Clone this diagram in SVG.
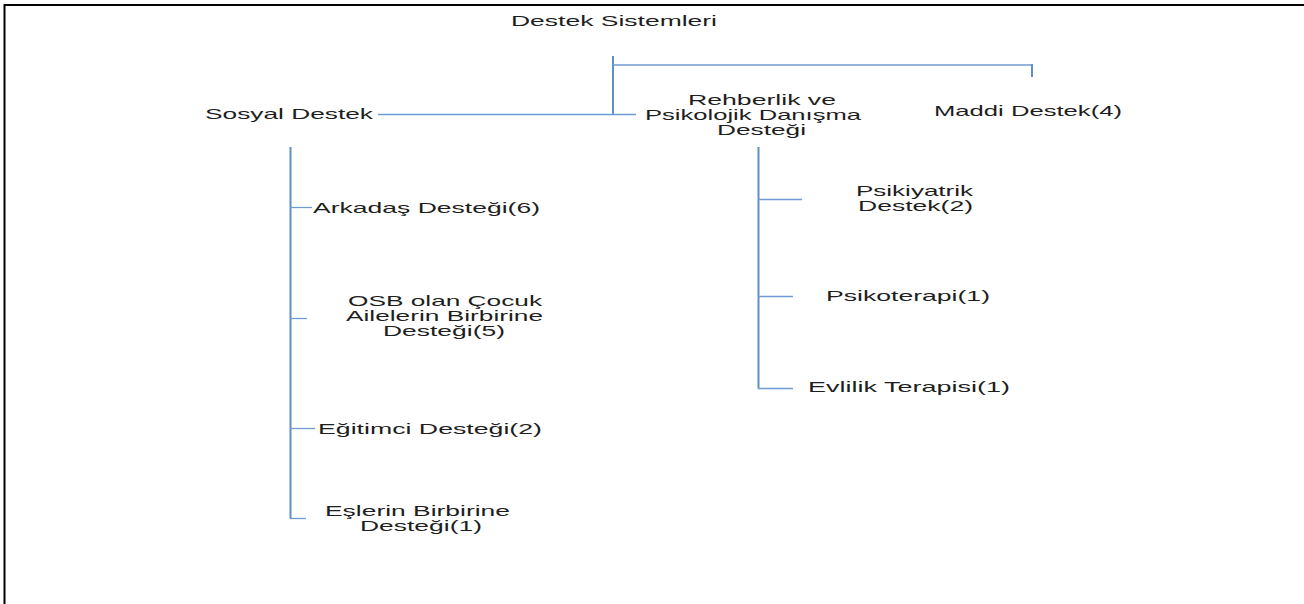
<svg xmlns="http://www.w3.org/2000/svg" width="1304" height="604" viewBox="0 0 1304 604">
  <style>
    .frame { stroke: #000; stroke-width: 2; fill: none; }
    .v { stroke: #5f8fca; stroke-width: 2; fill: none; }
    .h { stroke: #6f9bd2; stroke-width: 1.3; fill: none; }
    text { font-family: "Liberation Sans", Arial, sans-serif; font-size: 15px; fill: #1e1e1e; }
  </style>
  <rect width="1304" height="604" fill="#fff"/>
  <!-- page frame: top and left edges only -->
  <path class="frame" d="M4.5 604 V5 H1304"/>

  <g id="connectors">
    <!-- root trunk and top bar -->
    <line class="v" x1="613" y1="56" x2="613" y2="115"/>
    <line class="h" x1="613" y1="65" x2="1032" y2="65"/>
    <line class="v" x1="1032" y1="64" x2="1032" y2="77"/>
    <line class="h" x1="378" y1="114.5" x2="636" y2="114.5"/>
    <!-- Sosyal Destek branch -->
    <line class="v" x1="290.5" y1="147" x2="290.5" y2="518.5"/>
    <line class="h" x1="290" y1="207.5" x2="312" y2="207.5"/>
    <line class="h" x1="290" y1="318.5" x2="307" y2="318.5"/>
    <line class="h" x1="290" y1="428.5" x2="315" y2="428.5"/>
    <line class="h" x1="290" y1="518.5" x2="306" y2="518.5"/>
    <!-- Rehberlik branch -->
    <line class="v" x1="758.5" y1="147" x2="758.5" y2="388.5"/>
    <line class="h" x1="758" y1="199.5" x2="802" y2="199.5"/>
    <line class="h" x1="758" y1="296.5" x2="793" y2="296.5"/>
    <line class="h" x1="758" y1="388.5" x2="793" y2="388.5"/>
  </g>

  <g id="root">
    <text x="511" y="26" textLength="206" lengthAdjust="spacingAndGlyphs">Destek Sistemleri</text>
  </g>
  <g id="sosyal">
    <text x="205" y="119" textLength="168" lengthAdjust="spacingAndGlyphs">Sosyal Destek</text>
  </g>
  <g id="rehberlik">
    <text x="688" y="105" textLength="148" lengthAdjust="spacingAndGlyphs">Rehberlik ve</text>
    <text x="645" y="120" textLength="216" lengthAdjust="spacingAndGlyphs">Psikolojik Danışma</text>
    <text x="717" y="135" textLength="89" lengthAdjust="spacingAndGlyphs">Desteği</text>
  </g>
  <g id="maddi">
    <text x="934" y="116" textLength="188" lengthAdjust="spacingAndGlyphs">Maddi Destek(4)</text>
  </g>

  <g id="arkadas">
    <text x="313" y="213" textLength="227" lengthAdjust="spacingAndGlyphs">Arkadaş Desteği(6)</text>
  </g>
  <g id="osb">
    <text x="348" y="306" textLength="194" lengthAdjust="spacingAndGlyphs">OSB olan Çocuk</text>
    <text x="346" y="321" textLength="197" lengthAdjust="spacingAndGlyphs">Ailelerin Birbirine</text>
    <text x="383" y="336" textLength="122" lengthAdjust="spacingAndGlyphs">Desteği(5)</text>
  </g>
  <g id="egitimci">
    <text x="318" y="434" textLength="224" lengthAdjust="spacingAndGlyphs">Eğitimci Desteği(2)</text>
  </g>
  <g id="esler">
    <text x="325" y="516" textLength="185" lengthAdjust="spacingAndGlyphs">Eşlerin Birbirine</text>
    <text x="360" y="531" textLength="122" lengthAdjust="spacingAndGlyphs">Desteği(1)</text>
  </g>

  <g id="psikiyatrik">
    <text x="856" y="196" textLength="117" lengthAdjust="spacingAndGlyphs">Psikiyatrik</text>
    <text x="858" y="211" textLength="115" lengthAdjust="spacingAndGlyphs">Destek(2)</text>
  </g>
  <g id="psikoterapi">
    <text x="826" y="301" textLength="164" lengthAdjust="spacingAndGlyphs">Psikoterapi(1)</text>
  </g>
  <g id="evlilik">
    <text x="808" y="392" textLength="202" lengthAdjust="spacingAndGlyphs">Evlilik Terapisi(1)</text>
  </g>
</svg>
